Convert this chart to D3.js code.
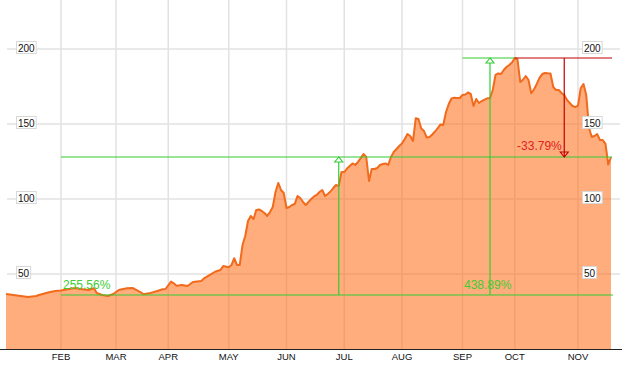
<!DOCTYPE html>
<html><head><meta charset="utf-8">
<script src="https://cdn.jsdelivr.net/npm/d3@7/dist/d3.min.js"></script>
<style>body{margin:0;background:#fff}svg{display:block}</style>
</head><body>
<svg id="chart" width="627" height="367"></svg>
<script>
// ---- data ----
const sessions = [0,4,8,11,12,16,18,20,23,25,27,30,32,33,35,37,39,41,44,46,49,50,52,55,57,58,60,61,62,64,66,68,71,72,74,76,78,79,81,82,83,84,85,86,87,88,89,90,91,92,93,94,95,96,97,98,99,100,101,102,103,104,105,106,107,108,109,110,111,112,113,114,115,116,117,118,119,120,121,122,123,124,125,126,127,128,129,130,131,132,133,134,135,136,137,138,139,140,141,142,143,144,145,146,147,148,149,150,151,152,153,154,155,156,157,158,159,160,161,162,163,164,165,166,167,168,169,170,171,172,173,174,175,176,177,178,179,180,181,182,183,184,185,186,187,188,189,190,191,192,193,194,195,196,197,198,199,200,201,202,203,204,205,206,207,208,209,210,211,212,213,214,215,216,217,218,219,220];
const prices = [36.7,35.7,34.7,35.3,36,38,38.7,39,40,40.7,40,39.3,40.5,37.3,36,35.3,36.7,39.3,40.5,40.7,37.8,36.5,37.1,38.7,39.8,40,44.9,43.8,42.2,42.7,42,44.7,45.3,47.1,49.3,51.5,52.7,55.3,54.5,56,60.5,56,56,69.3,75.3,85.3,88.7,86.7,92.7,93,92,90.7,88.7,91.3,94.7,104.7,110.7,106,104,94,94.7,96,96.7,102,100.7,98,96,98,100,101.7,102.7,104.7,106,102,103.3,105,107.3,109.3,108.7,118,118,120.3,122,123.7,122.7,124.7,127.3,130,128,112,120,120,120.7,122.7,123.3,123.7,122.7,128,131.3,133.3,135.3,137.1,140,143.3,142,138.7,153.8,153.3,147,145.3,141,141.3,143,145,147.3,149.7,149.3,158,163.3,167,167.5,167.3,167.3,169.3,169.7,171,170,162,166.7,164,165.3,166.3,167.1,167.1,172.7,182.7,183.7,183.3,186,188,189.3,191,194,193,178,179.5,182,179.3,170.5,173,176.7,180.7,183.3,184,183.8,183.7,174.7,172.7,172.7,170.7,169.3,166,164,162,161.3,162.3,174,176.7,169.3,147.3,141.3,142,143.3,139.3,139.3,136.7,123,128];
const monthLabels = ["FEB","MAR","APR","MAY","JUN","JUL","AUG","SEP","OCT","NOV"];
const monthTicks = [20,40,59,81,102,123,144,166,185,208];
const yTicks = [50,100,150,200];
// annotation levels (price) and sessions
const lowLevel = 36, recoverLevel = 128, peakLevel = 194;
const lowSession = 20, endSession = 220, upArrow1 = 121, upArrow2 = 176, peakLineStart = 166, peakSession = 185, downArrow = 203;
const pctLabels = ["255.56%","438.89%","-33.79%"];

// ---- chart ----
const svg = d3.select("#chart");
const x = d3.scaleLinear().domain([0,220]).range([6,611]);
const y = d3.scaleLinear().domain([0,200]).range([349,49]);
const data = sessions.map((s,i)=>({s, v:prices[i]}));

// gridlines
const grid = svg.append("g");
grid.selectAll(".hg").data(yTicks).join("line")
  .attr("x1",7).attr("x2",620).attr("y1",d=>y(d)).attr("y2",d=>y(d))
  .attr("stroke","#e2e2e2").attr("stroke-width",1.5);
grid.selectAll(".vg").data(monthTicks).join("line")
  .attr("x1",d=>x(d)).attr("x2",d=>x(d)).attr("y1",0).attr("y2",349)
  .attr("stroke","#e2e2e2").attr("stroke-width",1.5);

// area + line
svg.append("path").datum(data)
  .attr("d", d3.area().x(d=>x(d.s)).y0(y(0)).y1(d=>y(d.v)))
  .attr("fill","#ff6a10").attr("fill-opacity",0.55);
svg.append("path").datum(data)
  .attr("d", d3.line().x(d=>x(d.s)).y(d=>y(d.v)))
  .attr("fill","none").attr("stroke","#f26a1b").attr("stroke-width",2).attr("stroke-linejoin","round");

// bottom axis
svg.append("line").attr("x1",0).attr("x2",622).attr("y1",349.5).attr("y2",349.5).attr("stroke","#222").attr("stroke-width",1);
svg.selectAll(".ml").data(monthLabels).join("text")
  .attr("x",(d,i)=>x(monthTicks[i])).attr("y",360)
  .attr("text-anchor","middle").attr("font-family","Liberation Sans, Arial, sans-serif")
  .attr("font-size","9.5px").attr("fill","#111").text(d=>d);

// y labels (boxes) left and right
function yLabels(x0){
  const g = svg.append("g");
  yTicks.forEach(t=>{
    const lg = g.append("g");
    const txt = lg.append("text").attr("x",x0+2).attr("y",y(t)+2.5)
      .attr("font-family","Liberation Sans, Arial, sans-serif").attr("font-size","10px").attr("fill","#111").text(t);
    const w = txt.node().getComputedTextLength();
    lg.insert("rect","text").attr("x",x0+0.5).attr("y",y(t)-7.5).attr("width",w+3).attr("height",12)
      .attr("fill","#fff").attr("stroke","#d8d8d8").attr("stroke-width",1);
  });
}
yLabels(16);
yLabels(582);

// annotations
const green = "#33cc33", red = "#c00000";
const ann = svg.append("g");
function hline(x1,x2,v,c){ ann.append("line").attr("x1",x1).attr("x2",x2).attr("y1",y(v)).attr("y2",y(v)).attr("stroke",c).attr("stroke-width",1.2); }
function vline(s,v1,v2,c){ ann.append("line").attr("x1",x(s)).attr("x2",x(s)).attr("y1",y(v1)).attr("y2",y(v2)).attr("stroke",c).attr("stroke-width",1.2); }
function tri(s,v,dir,c,fill){
  const cx=x(s), cy=y(v);
  const p = dir<0 ? `M${cx},${cy} L${cx-4},${cy+5} L${cx+4},${cy+5} Z` : `M${cx},${cy} L${cx-4},${cy-5} L${cx+4},${cy-5} Z`;
  ann.append("path").attr("d",p).attr("fill",fill).attr("stroke",c).attr("stroke-width",1.1);
}
hline(x(lowSession), x(endSession)+2, lowLevel, green);
hline(x(lowSession), x(endSession)+1, recoverLevel, green);
vline(upArrow1, lowLevel, recoverLevel, green);
tri(upArrow1, recoverLevel, -1, green, "#fff");
hline(x(peakLineStart), x(peakSession), peakLevel, green);
vline(upArrow2, lowLevel, peakLevel, green);
tri(upArrow2, peakLevel, -1, green, "#fff");
hline(x(peakSession), x(endSession)+1, peakLevel, red);
vline(downArrow, peakLevel, recoverLevel, red);
tri(downArrow, recoverLevel, 1, red, "none");

const tf = "Liberation Sans, Arial, sans-serif";
ann.append("text").attr("x",x(lowSession)+2).attr("y",y(lowLevel)-6).attr("font-family",tf).attr("font-size","12px").attr("fill","#44cc33").text(pctLabels[0]);
ann.append("text").attr("x",x(peakLineStart)+1.5).attr("y",y(lowLevel)-6).attr("font-family",tf).attr("font-size","12px").attr("fill","#44cc33").text(pctLabels[1]);
ann.append("text").attr("x",x(downArrow)-2.5).attr("y",y(recoverLevel)-7).attr("text-anchor","end").attr("font-family",tf).attr("font-size","12px").attr("fill","#dd2222").text(pctLabels[2]);
</script>
</body></html>
